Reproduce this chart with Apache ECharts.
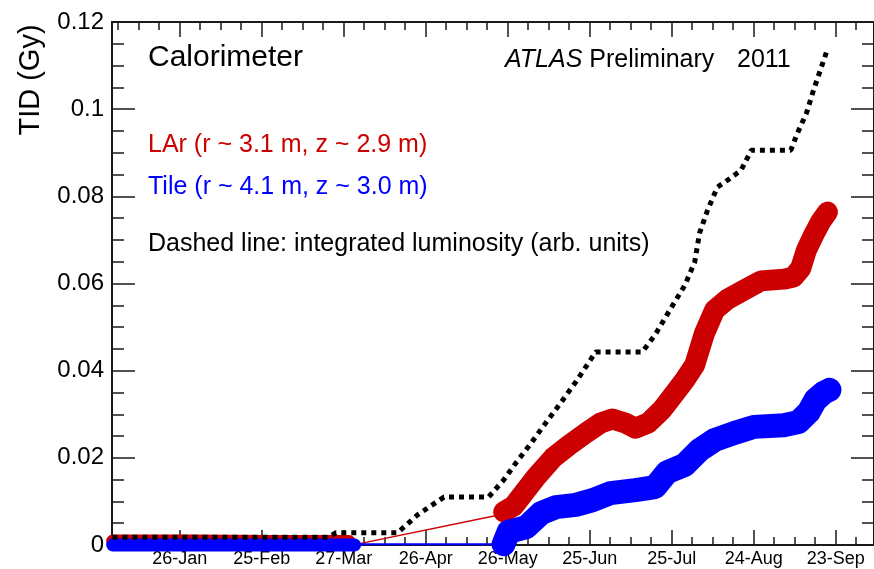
<!DOCTYPE html>
<html>
<head>
<meta charset="utf-8">
<script src="https://cdn.jsdelivr.net/npm/echarts@6/dist/echarts.min.js"></script>
<style>
  html, body { margin: 0; padding: 0; background: #fff; }
  #chart { width: 874px; height: 569px; }
</style>
</head>
<body>
<div id="chart"></div>
<script>
// x = day of year 2011 (1 = 1 Jan), y = TID in Gy
const majorDays = [26, 56, 86, 116, 146, 176, 206, 236, 266]
const monthNames = ['Jan', 'Feb', 'Mar', 'Apr', 'May', 'Jun', 'Jul', 'Aug', 'Sep', 'Oct', 'Nov', 'Dec']
const xMin = 1.25
const xMax = 280

// LAr (r ~ 3.1 m, z ~ 2.9 m)
const larEarly = [[1.5, 0.0009], [30, 0.0009], [60, 0.0008], [88, 0.0008]]
const larBridge = [[91, 0.0002], [144.5, 0.0071]]
const larMain = [
  [144.5, 0.0076], [148.1, 0.0089], [156.4, 0.0156], [162.6, 0.0200], [168.4, 0.0229],
  [174.6, 0.0257], [180.0, 0.0280], [184.3, 0.0289], [189.0, 0.0280], [192.7, 0.0268],
  [197.4, 0.0280], [202.4, 0.0310], [207.2, 0.0349], [210.8, 0.0379], [214.4, 0.0413],
  [218.0, 0.0486], [221.7, 0.0539], [226.4, 0.0564], [232.5, 0.0585], [238.7, 0.0606],
  [247.0, 0.0610], [250.6, 0.0615], [253.2, 0.0635], [255.3, 0.0677], [257.9, 0.0711],
  [260.4, 0.0741], [263.0, 0.0764]
]

// Tile (r ~ 4.1 m, z ~ 3.0 m)
const tileEarly = [[1.5, 0.0], [45, 0.0], [90, 0.0]]
const tileBridge = [[90, 0.0002], [144.5, 0.0002]]
const tileMain = [
  [144.5, 0.0002], [146.3, 0.0030], [152.8, 0.0041], [158.2, 0.0073], [163.7, 0.0087],
  [170.9, 0.0092], [177.1, 0.0103], [183.6, 0.0119], [192.7, 0.0126], [199.9, 0.0133],
  [204.3, 0.0167], [210.8, 0.0184], [216.2, 0.0218], [221.7, 0.0241], [228.9, 0.0257],
  [236.1, 0.0271], [247.0, 0.0275], [252.4, 0.0282], [256.1, 0.0305], [258.6, 0.0333],
  [261.5, 0.0349], [263.7, 0.0356]
]

// integrated luminosity (arb. units)
const lumi = [
  [1.4, 0.0018], [80.3, 0.0018], [83.2, 0.0028], [105.7, 0.0028], [113.0, 0.0069],
  [122.7, 0.0110], [139.0, 0.0110], [144.5, 0.0149], [149.2, 0.0190], [154.6, 0.0234],
  [159.3, 0.0275], [164.8, 0.0321], [170.9, 0.0374], [178.2, 0.0443], [195.2, 0.0443],
  [199.9, 0.0482], [205.3, 0.0539], [210.8, 0.0596], [214.4, 0.0649], [216.2, 0.0716],
  [219.1, 0.0768], [222.7, 0.0821], [226.4, 0.0837], [231.4, 0.0860], [235.1, 0.0906],
  [249.6, 0.0906], [251.7, 0.0941], [255.3, 0.0991], [257.9, 0.1044], [260.4, 0.1090],
  [262.6, 0.1131]
]

const FONT = '"Liberation Sans", Arial, Helvetica, sans-serif'
const RED = '#cc0000'
const BLUE = '#0000ff'
const AXIS = '#1a1a1a'

// minor x ticks every 7.5 days around the major ones
const minorDays = []
for (let d = majorDays[0]; d > xMin; d -= 7.5) minorDays.unshift(d)
for (let d = majorDays[0] + 7.5; d < xMax; d += 7.5) minorDays.push(d)

function dayLabel(d) {
  const dt = new Date(Date.UTC(2011, 0, d))
  return dt.getUTCDate() + '-' + monthNames[dt.getUTCMonth()]
}

function xAxisDef(pos, ticks, len, labels) {
  return {
    type: 'value', position: pos, min: xMin, max: xMax,
    axisLine: { show: true, onZero: false, lineStyle: { color: AXIS, width: 2 } },
    axisTick: { show: true, inside: true, length: len, customValues: ticks, lineStyle: { color: AXIS, width: 1.5 } },
    axisLabel: labels ? {
      show: true, customValues: majorDays, margin: 5, formatter: dayLabel,
      fontFamily: FONT, fontSize: 18, color: '#000'
    } : { show: false },
    splitLine: { show: false }
  }
}

function yAxisDef(pos, step, len, labels) {
  return {
    type: 'value', position: pos, min: 0, max: 0.12, interval: step,
    axisLine: { show: true, onZero: false, lineStyle: { color: AXIS, width: 2 } },
    axisTick: { show: true, inside: true, length: len, lineStyle: { color: AXIS, width: 1.5 } },
    axisLabel: labels ? {
      show: true, margin: 8, fontFamily: FONT, fontSize: 24, color: '#000'
    } : { show: false },
    splitLine: { show: false }
  }
}

function band(data, color, width, z) {
  return {
    type: 'line', data: data, symbol: 'none', clip: false, z: z,
    lineStyle: { color: color, width: width, cap: 'round', join: 'round' }
  }
}

const chart = echarts.init(document.getElementById('chart'), null, { renderer: 'canvas' })
chart.setOption({
  animation: false,
  backgroundColor: '#fff',
  grid: { left: 112, top: 22, width: 769, height: 523 },
  xAxis: [
    xAxisDef('bottom', majorDays, 15, true),
    xAxisDef('bottom', minorDays, 8, false),
    xAxisDef('top', majorDays, 15, false),
    xAxisDef('top', minorDays, 8, false)
  ],
  yAxis: [
    yAxisDef('left', 0.02, 23, true),
    yAxisDef('left', 0.005, 12, false),
    yAxisDef('right', 0.02, 23, false),
    yAxisDef('right', 0.005, 12, false)
  ],
  series: [
    band(larEarly, RED, 13, 2),
    band(tileEarly, BLUE, 13, 3),
    band(larBridge, RED, 1.5, 2),
    band(tileBridge, BLUE, 2, 3),
    band(larMain, RED, 21, 2),
    band(tileMain, BLUE, 24, 3),
    {
      type: 'line', data: lumi, symbol: 'none', clip: false, z: 4,
      lineStyle: { color: '#000', width: 5, type: [5, 5], cap: 'butt' }
    }
  ],
  graphic: [
    {
      type: 'text', x: 31, y: 80, rotation: Math.PI / 2,
      style: { text: 'TID (Gy)', font: '29px ' + FONT, fill: '#000', align: 'center', verticalAlign: 'middle' }
    },
    {
      type: 'text', x: 148, y: 58,
      style: { text: 'Calorimeter', font: '30px ' + FONT, fill: '#000', verticalAlign: 'middle' }
    },
    {
      type: 'text', x: 505, y: 60,
      style: {
        text: '{i|ATLAS} Preliminary', font: '25px ' + FONT, fill: '#000', verticalAlign: 'middle',
        rich: { i: { fontStyle: 'italic', fontSize: 25, fontFamily: FONT, fill: '#000' } }
      }
    },
    {
      type: 'text', x: 737, y: 60,
      style: { text: '2011', font: '25px ' + FONT, fill: '#000', verticalAlign: 'middle' }
    },
    {
      type: 'text', x: 148, y: 145,
      style: { text: 'LAr (r ~ 3.1 m, z ~ 2.9 m)', font: '25px ' + FONT, fill: RED, verticalAlign: 'middle' }
    },
    {
      type: 'text', x: 148, y: 187,
      style: { text: 'Tile (r ~ 4.1 m, z ~ 3.0 m)', font: '25px ' + FONT, fill: BLUE, verticalAlign: 'middle' }
    },
    {
      type: 'text', x: 148, y: 244,
      style: { text: 'Dashed line: integrated luminosity (arb. units)', font: '25px ' + FONT, fill: '#000', verticalAlign: 'middle' }
    }
  ]
})
</script>
</body>
</html>
